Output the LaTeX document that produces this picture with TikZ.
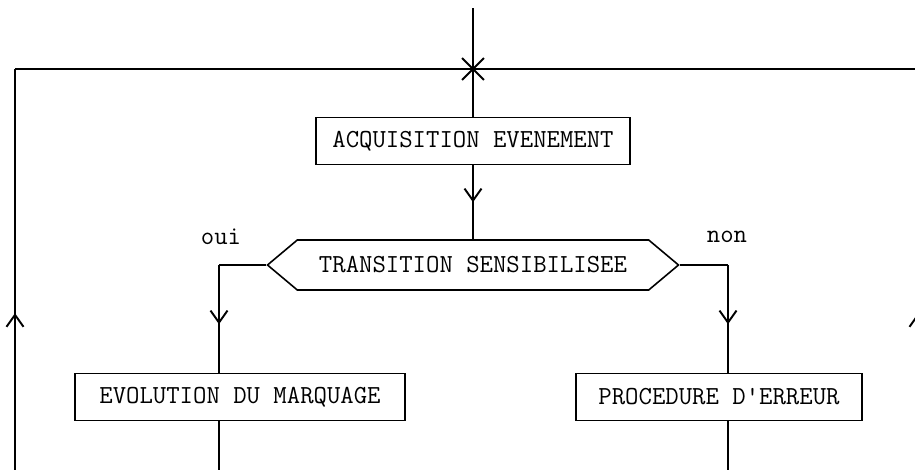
\documentclass[tikz,border=0pt]{standalone}
\usepackage{tikz}
\usetikzlibrary{positioning,calc,shapes.symbols,shapes.misc,arrows.meta,decorations.markings}

\begin{document}
\begin{tikzpicture}[
	% Cadre d'action (rectangle)
	boite/.style={
		rectangle, draw=black, line width=0.9pt,
		minimum height=0.94cm, inner sep=0pt,
		font=\fontsize{14.8}{17}\selectfont\ttfamily
	},
	% Test (hexagone)
	test/.style={
		signal, signal to=west and east, signal pointer angle=80,
		draw=black, line width=0.9pt,
		minimum width=8.22cm, minimum height=1cm, inner sep=0pt,
		font=\fontsize{14.8}{17}\selectfont\ttfamily
	},
	% Trait simple
	ligne/.style={line width=1.1pt},
	% Trait avec fleche ouverte au milieu
	flow/.style={
		line width=1.1pt, postaction={decorate},
		decoration={markings, mark=at position #1 with {\arrow{Straight Barb[length=2.4mm,width=3.4mm,line width=1.1pt]}}}
	},
	flow/.default=0.5,
	% Reponse oui / non
	reponse/.style={font=\fontsize{14.8}{17}\selectfont\ttfamily}
	]
	
	\useasboundingbox (0,0) rectangle (18.3,-9.38);
	\clip (0,0) rectangle (18.3,-9.38);
	
	% --- Entree et boucle de retour ---
	\coordinate (entree) at (9.46,-0.16);
	\coordinate (jonction) at (9.46,-1.38);
	\coordinate (haut_g) at (0.3,-1.38);
	\coordinate (haut_d) at (18.36,-1.38);
	\coordinate (bas_g) at (0.3,-9.6);
	\coordinate (bas_d) at (18.36,-9.6);
	
	\node[draw, cross out, line width=1.1pt, minimum size=0.4cm, inner sep=0pt] (croix) at (jonction) {};
	
	% --- Acquisition ---
	\node[boite, minimum width=6.28cm] (acq) at (9.46,-2.82) {ACQUISITION EVENEMENT};
	\draw[ligne] (entree) -- (acq.north);
	
	% --- Test ---
	\node[test] (trans) at (9.46,-5.3) {TRANSITION SENSIBILISEE};
	\draw[flow] (acq.south) -- (trans.north);
	
	\node[reponse] (oui) at (4.42,-4.74) {oui};
	\node[reponse] (non) at (14.54,-4.74) {non};
	
	% --- Branches ---
	\node[boite, minimum width=6.6cm] (evol) at (4.8,-7.94) {EVOLUTION DU MARQUAGE};
	\node[boite, minimum width=5.72cm] (erreur) at (14.38,-7.94) {PROCEDURE D'ERREUR};
	
	\coordinate (coin_g) at (4.38,-5.3);
	\coordinate (coin_d) at (14.56,-5.3);
	\draw[ligne] (trans.west) -- (coin_g);
	\draw[flow=0.55] (coin_g) -- (coin_g |- evol.north);
	\draw[ligne] (trans.east) -- (coin_d);
	\draw[flow=0.55] (coin_d) -- (coin_d |- erreur.north);
	
	\draw[ligne] (coin_g |- evol.south) -- (coin_g |- bas_g);
	\draw[ligne] (coin_d |- erreur.south) -- (coin_d |- bas_d);
	
	% Boucle (montee a gauche et a droite)
	\draw[flow=0.406] (bas_g) -- (haut_g);
	\draw[ligne] (haut_g) -- (jonction);
	\draw[flow=0.406] (bas_d) -- (haut_d);
	\draw[ligne] (haut_d) -- (jonction);
	
\end{tikzpicture}
\end{document}
